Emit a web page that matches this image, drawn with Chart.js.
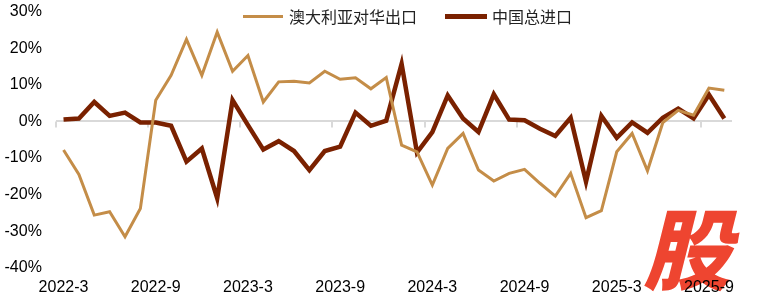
<!DOCTYPE html>
<html>
<head>
    <meta charset="UTF-8">
    <script src="https://cdn.jsdelivr.net/npm/chart.js"></script>
    <style>
        body { margin: 0; background: #fff; }
        #wrap { position: relative; width: 759px; height: 299px; }
        #chart { position: relative; z-index: 1; }
        #legend { position: absolute; z-index: 2; left: 243px; top: 4px; display: flex; align-items: center;
                  font-family: "Noto Sans CJK SC", sans-serif; font-size: 16px; color: #222; }
        #legend .sw { display: inline-block; width: 40px; margin-right: 6px; }
        #mark { position: absolute; z-index: 0; left: 643px; top: 201px; font-family: "Noto Sans CJK SC", sans-serif;
                font-weight: 900; font-style: italic; font-size: 88px; color: #ee4530; line-height: 1; }
    </style>
</head>
<body>
<div id="wrap">
    <div id="mark">股</div>
    <canvas id="chart" width="759" height="299"></canvas>
    <div id="legend">
        <span class="sw" style="border-top:3px solid #c48d48"></span><span>澳大利亚对华出口</span>
        <span class="sw" style="border-top:5px solid #7a2100;margin-left:28px;width:42px;margin-right:5px"></span><span>中国总进口</span>
    </div>
</div>
<script>
    // months 2022-3 .. 2025-10
    const months = [];
    for (let y = 2022, m = 3; y < 2025 || m <= 10; ) {
        months.push(y + '-' + m);
        m++;
        if (m > 12) { m = 1; y++; }
    }

    const ausExports = [-7.8, -14.5, -25.6, -24.7, -31.5, -23.8, 5.8, 12.6, 22.4, 12.6,
        24.4, 13.7, 18.0, 5.3, 10.8, 11.0, 10.5, 13.7, 11.5, 11.9,
        8.9, 12.0, -6.5, -8.3, -17.4, -7.4, -3.3, -13.3, -16.3, -14.2,
        -13.1, -16.9, -20.4, -14.2, -26.3, -24.4, -8.3, -3.3, -13.5, -0.3,
        3.0, 1.7, 9.1, 8.5];
    const chinaImports = [0.5, 0.8, 5.3, 1.5, 2.4, -0.3, -0.3, -1.2, -11.0, -7.4,
        -21.0, 5.8, -1.0, -7.7, -5.4, -8.1, -13.3, -8.1, -6.9, 2.4,
        -1.2, 0.2, 15.7, -8.5, -2.9, 7.1, 0.8, -2.9, 7.4, 0.5,
        0.3, -2.0, -4.0, 1.0, -16.5, 1.5, -4.5, -0.3, -3.1, 1.0,
        3.5, 0.8, 7.3, 0.8];

    // zero line tick marks, every 6 months, between categories
    const zeroTicks = {
        id: 'zeroTicks',
        beforeDatasetsDraw(chart) {
            const x = chart.scales.x, y = chart.scales.y, ctx = chart.ctx;
            const y0 = y.getPixelForValue(0);
            const half = (x.getPixelForValue(1) - x.getPixelForValue(0)) / 2;
            ctx.save();
            ctx.strokeStyle = '#d9d9d9';
            ctx.lineWidth = 2;
            for (let i = 0; i < months.length; i += 6) {
                const px = Math.round(x.getPixelForValue(i) - half);
                ctx.beginPath();
                ctx.moveTo(px, y0);
                ctx.lineTo(px, y0 + 6);
                ctx.stroke();
            }
            ctx.restore();
        }
    };

    new Chart(document.getElementById('chart'), {
        type: 'line',
        data: {
            labels: months,
            datasets: [
                { label: '澳大利亚对华出口', data: ausExports, borderColor: '#c48d48', borderWidth: 3,
                  pointRadius: 0, tension: 0 },
                { label: '中国总进口', data: chinaImports, borderColor: '#7a2100', borderWidth: 4.5,
                  pointRadius: 0, tension: 0 }
            ]
        },
        options: {
            responsive: false,
            animation: false,
            layout: { padding: { left: 2.5, right: 27, top: 0, bottom: 0 } },
            plugins: { legend: { display: false }, tooltip: { enabled: false } },
            scales: {
                x: {
                    offset: true,
                    grid: { display: false, drawTicks: true, tickLength: 8 },
                    border: { display: false },
                    ticks: {
                        autoSkip: false, maxRotation: 0, padding: 2, color: '#000',
                        font: { family: 'Liberation Sans', size: 16 },
                        callback: (v, i) => i % 6 === 0 ? months[i] : ''
                    }
                },
                y: {
                    min: -40, max: 30,
                    border: { display: false },
                    grid: {
                        drawTicks: true, tickLength: 12, tickColor: 'transparent', lineWidth: 2,
                        color: c => c.tick && c.tick.value === 0 ? '#d9d9d9' : 'transparent'
                    },
                    ticks: {
                        stepSize: 10, padding: 2, color: '#000',
                        font: { family: 'Liberation Sans', size: 16 },
                        callback: v => v + '%'
                    }
                }
            }
        },
        plugins: [zeroTicks]
    });
</script>
</body>
</html>
